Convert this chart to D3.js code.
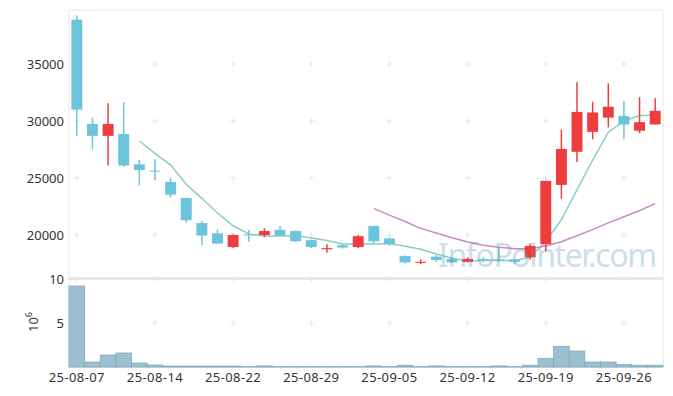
<!DOCTYPE html>
<html>
<head>
<meta charset="utf-8">
<script src="https://cdn.jsdelivr.net/npm/d3@7"></script>
<style>
  body { margin: 0; background: #fff; }
  svg { display: block; font-family: "Noto Sans", sans-serif; }
</style>
</head>
<body>
<svg id="chart" width="673" height="396"></svg>
<script>
// trading days
const dates = [
  "25-08-07", "25-08-08", "25-08-11", "25-08-12", "25-08-13", "25-08-14", "25-08-18", "25-08-19",
  "25-08-20", "25-08-21", "25-08-22", "25-08-25", "25-08-26", "25-08-27", "25-08-28", "25-08-29",
  "25-09-01", "25-09-02", "25-09-03", "25-09-04", "25-09-05", "25-09-08", "25-09-09", "25-09-10",
  "25-09-11", "25-09-12", "25-09-15", "25-09-16", "25-09-17", "25-09-18", "25-09-19", "25-09-22",
  "25-09-23", "25-09-24", "25-09-25", "25-09-26", "25-09-29", "25-09-30"
];
const opens = [
  38900, 29750, 28700, 28850, 26200, 25650, 24650, 23250, 21050, 20150,
  18950, 20050, 20000, 20450, 20350, 19550, 18750, 19100, 18950, 20800,
  19700, 18150, 17600, 18100, 17900, 17650, 17900, 17850, 17850, 18050,
  19200, 24400, 27300, 29050, 30300, 30450, 29150, 29700
];
const highs = [
  39250, 30300, 31550, 31650, 26600, 26650, 25050, 23300, 21250, 20500,
  20050, 20450, 20600, 20800, 20400, 19600, 19200, 19150, 20000, 20800,
  19750, 18200, 17850, 18250, 18100, 18050, 18050, 18850, 17900, 19250,
  24750, 29250, 33400, 31700, 33300, 31750, 32100, 32000
];
const lows = [
  28700, 27500, 26100, 26000, 24350, 24800, 23300, 21100, 19100, 19250,
  18850, 19400, 19800, 19950, 19400, 18850, 18450, 18800, 18850, 19250,
  19050, 17500, 17450, 17650, 17550, 17600, 17650, 17650, 17450, 17850,
  18550, 23200, 26400, 28400, 29450, 28400, 28950, 29700
];
const closes = [
  31000, 28700, 29750, 26100, 25700, 25600, 23550, 21300, 19950, 19250,
  20000, 20000, 20350, 19950, 19450, 18950, 18850, 18900, 19900, 19450,
  19200, 17600, 17650, 17800, 17600, 17900, 17850, 17800, 17650, 19050,
  24750, 27550, 30800, 30750, 31250, 29700, 29900, 30900
];
// volume, millions of shares
const volumes = [
  9.2, 0.57, 1.36, 1.59, 0.45, 0.23, 0.1, 0.1, 0.1, 0.1,
  0.1, 0.04, 0.12, 0.04, 0.04, 0.04, 0.04, 0.04, 0.04, 0.12,
  0.04, 0.2, 0.04, 0.12, 0.04, 0.04, 0.04, 0.12, 0.04, 0.2,
  0.98, 2.35, 1.82, 0.57, 0.57, 0.3, 0.2, 0.2
];
const priceTicks = [20000, 25000, 30000, 35000];
const volumeTicks = [5, 10];
const dateTicks = ["25-08-07", "25-08-14", "25-08-22", "25-08-29", "25-09-05", "25-09-12", "25-09-19", "25-09-26"];

// moving averages of the closes
function movingAverage(values, n) {
  return values.map((v, i) => i < n - 1 ? null : d3.mean(values.slice(i - n + 1, i + 1)));
}
const ma5 = movingAverage(closes, 5);
const ma20 = movingAverage(closes, 20);

const candles = dates.map((d, i) => ({
  date: d, open: opens[i], high: highs[i], low: lows[i], close: closes[i], volume: volumes[i]
}));

const left = 69, right = 663;
const priceTop = 10, priceBottom = 278;
const volTop = 279, volBottom = 367;

const red = "#ef3d3d", blue = "#6cc3dc";

const svg = d3.select("#chart");

const x = d3.scaleBand().domain(dates).range([left, right]).paddingInner(0.3).paddingOuter(0.15);
const xc = d => x(d) + x.bandwidth() / 2;
const step = x.step();

const y = d3.scaleLinear().domain([16230, 39740]).range([priceBottom, priceTop]);
const yVol = d3.scaleLinear().domain([0, 10]).range([volBottom, volTop]);

// frame
svg.append("rect")
  .attr("x", left).attr("y", priceTop)
  .attr("width", right - left).attr("height", volBottom - priceTop)
  .attr("fill", "none").attr("stroke", "#e6e6e6").attr("stroke-width", 1);
svg.append("line")
  .attr("x1", left).attr("x2", right)
  .attr("y1", priceBottom + 0.5).attr("y2", priceBottom + 0.5)
  .attr("stroke", "#e3e3e3").attr("stroke-width", 2.5);
svg.append("line")
  .attr("x1", left).attr("x2", right)
  .attr("y1", volBottom).attr("y2", volBottom)
  .attr("stroke", "#dcdcdc").attr("stroke-width", 1);

// grid crosses
const gridRows = priceTicks.map(t => y(t)).concat(volumeTicks.map(t => yVol(t)));
const crosses = [];
dateTicks.forEach(d => gridRows.forEach(r => crosses.push([xc(d), r])));
const grid = svg.append("g").attr("stroke", "#e4e4e4").attr("stroke-width", 1);
grid.selectAll("path").data(crosses).enter().append("path")
  .attr("d", p => `M${p[0] - 3},${p[1]}H${p[0] + 3}M${p[0]},${p[1] - 3}V${p[1] + 3}`);

// volume bars
svg.append("g").selectAll("rect").data(candles).enter().append("rect")
  .attr("x", d => xc(d.date) - step / 2)
  .attr("y", d => yVol(d.volume))
  .attr("width", step)
  .attr("height", d => yVol(0) - yVol(d.volume))
  .attr("fill", "#9bc1d1")
  .attr("stroke", "#7fa9bd")
  .attr("stroke-width", 0.8);

// moving average lines
const line = d3.line()
  .defined(d => d[1] != null)
  .x(d => xc(d[0]))
  .y(d => y(d[1]));
svg.append("path")
  .datum(dates.map((d, i) => [d, ma5[i]]))
  .attr("d", line)
  .attr("fill", "none").attr("stroke", "#8ccdc2").attr("stroke-width", 1.5);
svg.append("path")
  .datum(dates.map((d, i) => [d, ma20[i]]))
  .attr("d", line)
  .attr("fill", "none").attr("stroke", "#c98bc6").attr("stroke-width", 1.5);

// candles
const candle = svg.append("g").selectAll("g").data(candles).enter().append("g")
  .attr("fill", d => d.close >= d.open ? red : blue)
  .attr("stroke", d => d.close >= d.open ? red : blue);
candle.append("line")
  .attr("x1", d => xc(d.date)).attr("x2", d => xc(d.date))
  .attr("y1", d => y(d.high)).attr("y2", d => y(d.low))
  .attr("stroke-width", 1.5);
candle.append("rect")
  .attr("x", d => x(d.date))
  .attr("y", d => y(Math.max(d.open, d.close)))
  .attr("width", x.bandwidth())
  .attr("height", d => Math.max(1, Math.abs(y(d.open) - y(d.close))))
  .attr("stroke", "none");

// watermark
svg.append("text")
  .attr("x", 438).attr("y", 267)
  .attr("font-size", 32).attr("letter-spacing", -1.4)
  .attr("fill", "rgb(90,150,180)").attr("opacity", 0.3)
  .text("InfoPointer.com");

// axes labels
const labelColor = "#333";
svg.append("g").selectAll("text").data(priceTicks).enter().append("text")
  .attr("x", 64).attr("y", d => y(d)).attr("dy", "0.35em")
  .attr("text-anchor", "end").attr("font-size", 13).attr("fill", labelColor)
  .text(d => d);
svg.append("g").selectAll("text").data(volumeTicks).enter().append("text")
  .attr("x", 64).attr("y", d => yVol(d)).attr("dy", "0.35em")
  .attr("text-anchor", "end").attr("font-size", 13).attr("fill", labelColor)
  .text(d => d);
svg.append("g").selectAll("text").data(dateTicks).enter().append("text")
  .attr("x", d => xc(d)).attr("y", 382)
  .attr("text-anchor", "middle").attr("font-size", 13).attr("letter-spacing", 0.4)
  .attr("fill", labelColor)
  .text(d => d);

// volume unit
const unit = svg.append("text")
  .attr("transform", "translate(38,322) rotate(-90)")
  .attr("text-anchor", "middle").attr("font-size", 13).attr("fill", labelColor);
unit.append("tspan").text("10");
unit.append("tspan").attr("font-size", 9).attr("dy", -6).text("6");
</script>
</body>
</html>
